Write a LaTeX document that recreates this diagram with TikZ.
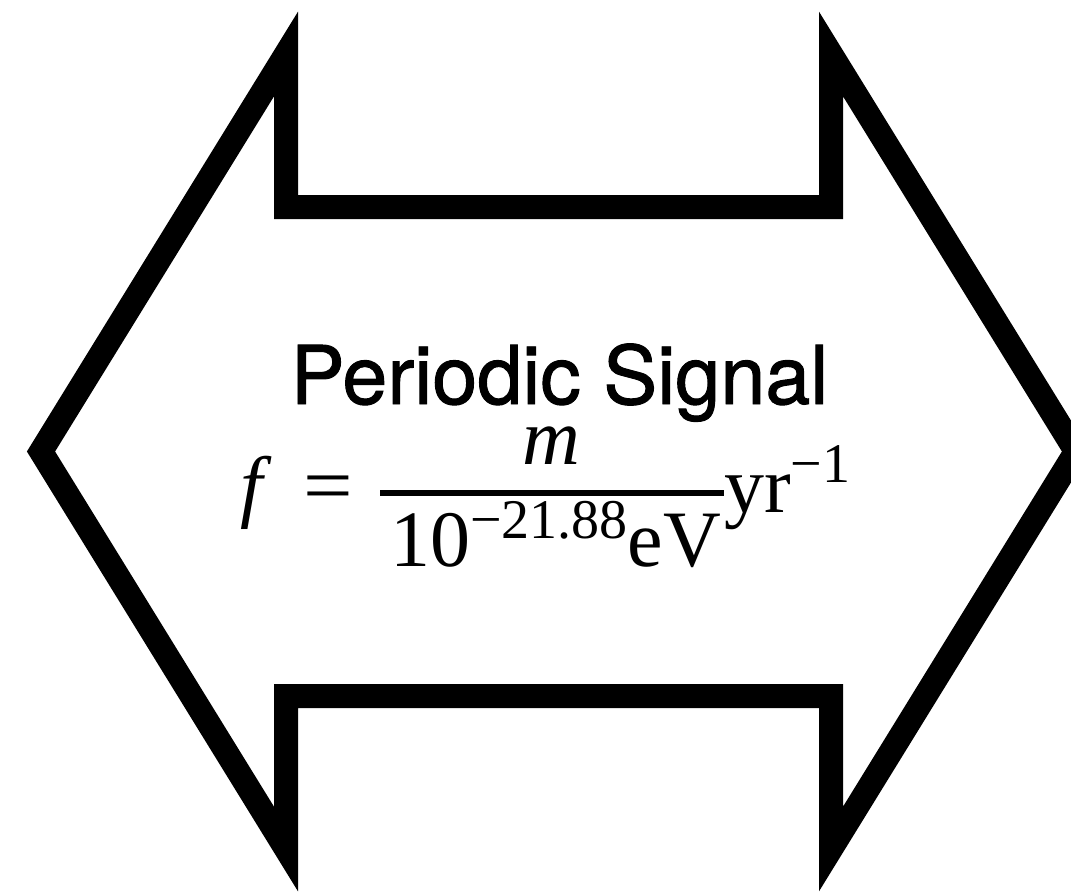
\documentclass[tikz,border=0pt]{standalone}
\usepackage{fontspec}
\setmainfont{Liberation Serif}
\newfontfamily\sansf{TeX Gyre Heros}[FakeBold=1.2]
\tikzset{
  outline/.style={draw=black, line width=24pt, line join=miter},
  titletext/.style={inner sep=0pt, font=\sansf\fontsize{81}{90}\selectfont},
  mathtext/.style={inner sep=0pt, font=\fontsize{80}{88}\selectfont},
  fracbar/.style={draw=black, line width=5.5pt}
}
\newcommand{\supbox}[2]{\raisebox{#1}{\fontsize{56}{60}\selectfont #2}}
\begin{document}
\begin{tikzpicture}[x=1pt,y=-1pt]
\useasboundingbox (0,0) rectangle (1071,892);
\clip (0,0) rectangle (1071,892);
% outline vertices
\coordinate (A) at (41,451.5);
\coordinate (B) at (286,54);
\coordinate (C) at (286,207);
\coordinate (D) at (831,207);
\coordinate (E) at (831,54);
\coordinate (F) at (1076,451.5);
\coordinate (G) at (831,849);
\coordinate (H) at (831,696);
\coordinate (I) at (286,696);
\coordinate (J) at (286,849);
\draw[outline] (A) -- (B) -- (C) -- (D) -- (E) -- (F) -- (G) -- (H) -- (I) -- (J) -- cycle;
% texts
\node[titletext, anchor=base] (title) at (559.5,404) {Periodic Signal};
\node[mathtext, anchor=base west] (fvar) at (240,512) {\textit{f}};
\node[mathtext, anchor=base west] (eq) at (303,512) {\scalebox{1.1}[1]{=}};
\node[mathtext, anchor=base] (num) at (551,464) {\textit{m}};
\coordinate (barL) at (380,493);
\coordinate (barR) at (724,493);
\draw[fracbar] (barL) -- (barR);
\node[mathtext, anchor=base west] (den) at (390,566) {10\supbox{28pt}{−21.88}eV};
\node[mathtext, anchor=base west] (unit) at (724,512) {yr\supbox{30pt}{−1}};
\end{tikzpicture}
\end{document}
